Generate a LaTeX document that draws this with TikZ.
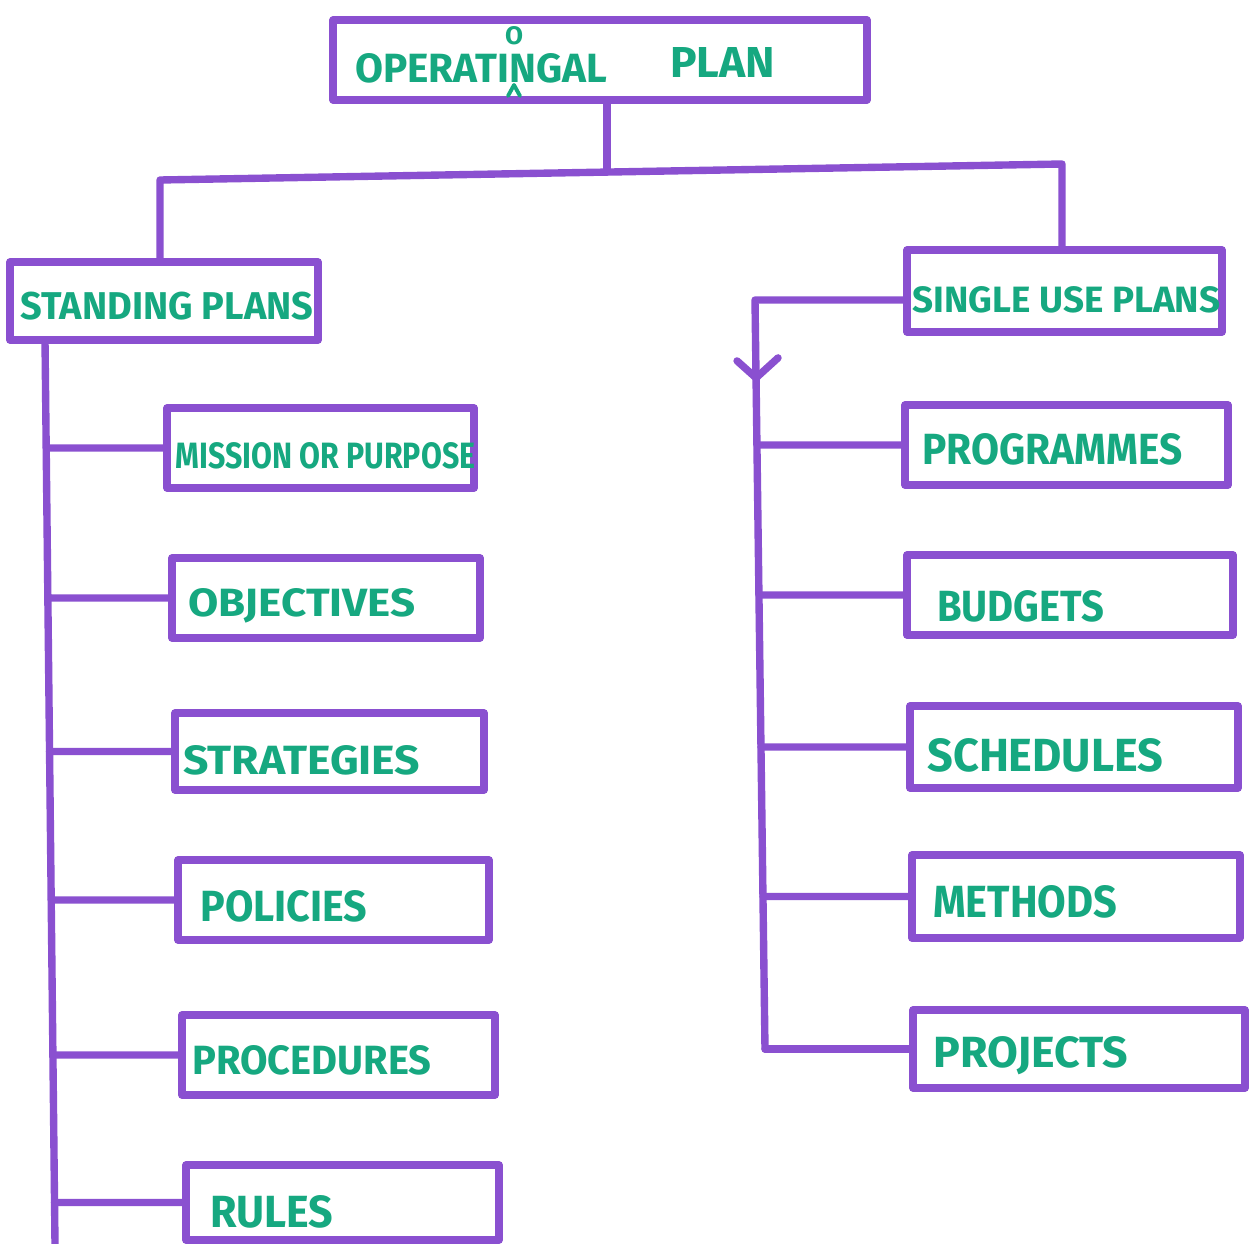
\documentclass[tikz,border=0pt]{standalone}
\usepackage{fontspec}
\setmainfont{Fira Sans}
\usepackage{graphicx}
\usetikzlibrary{calc}

\definecolor{ink}{RGB}{138,80,208}
\definecolor{marker}{RGB}{22,168,128}

% letters scaled to a given width and cap height
\newcommand\handtext[3]{\resizebox{#1}{#2}{\bfseries #3}}

\begin{document}
\begin{tikzpicture}[x=0.02cm,y=-0.02cm,
  wire/.style={draw=ink,line width=4.2pt,line cap=round,line join=round},
  box/.style={draw=ink,line width=4.2pt,line join=round,rectangle,inner sep=0pt},
  lbl/.style={text=marker,inner sep=0pt,anchor=west}]
\useasboundingbox[fill=white] (0,0) rectangle (1252,1244);

% ---------- boxes ----------
\node[box,minimum width=10.68cm,minimum height=1.6cm] (op) at (600,60) {};
\node[box,minimum width=6.16cm,minimum height=1.56cm] (sp) at (164,301) {};
\node[box,minimum width=6.3cm,minimum height=1.64cm] (su) at (1064.5,291) {};

\node[box,minimum width=6.14cm,minimum height=1.6cm] (mi) at (320.5,448) {};
\node[box,minimum width=6.16cm,minimum height=1.6cm] (ob) at (326,598) {};
\node[box,minimum width=6.18cm,minimum height=1.54cm] (st) at (329.5,751.5) {};
\node[box,minimum width=6.22cm,minimum height=1.6cm] (po) at (333.5,900) {};
\node[box,minimum width=6.26cm,minimum height=1.6cm] (pr) at (338.5,1055) {};
\node[box,minimum width=6.26cm,minimum height=1.5cm] (ru) at (342.5,1202.5) {};

\node[box,minimum width=6.46cm,minimum height=1.6cm] (pg) at (1066.5,445) {};
\node[box,minimum width=6.52cm,minimum height=1.6cm] (bu) at (1070,595) {};
\node[box,minimum width=6.56cm,minimum height=1.64cm] (sc) at (1074,747) {};
\node[box,minimum width=6.56cm,minimum height=1.66cm] (me) at (1076,896.5) {};
\node[box,minimum width=6.64cm,minimum height=1.56cm] (pj) at (1079,1049) {};

% ---------- labels ----------
\node[lbl] (tOp) at (355,68) {\handtext{5.04cm}{0.58cm}{OPERATINGAL}};
\node[lbl] (tPlan) at (670,63) {\handtext{2.1cm}{0.6cm}{PLAN}};
% inserted letter with its caret
\node[text=marker,inner sep=0pt] (tIns) at (514,36) {\handtext{0.36cm}{0.36cm}{O}};
\draw[draw=marker,line width=2.2pt,line cap=round,line join=round]
  ([xshift=-0.12cm,yshift=-1.2cm]tIns.center) -- ([yshift=-0.98cm]tIns.center) -- ([xshift=0.12cm,yshift=-1.2cm]tIns.center);

\node[lbl] (tSp) at (20,306) {\handtext{5.86cm}{0.55cm}{STANDING PLANS}};
\node[lbl] (tSu) at (912,300) {\handtext{6.16cm}{0.52cm}{SINGLE USE PLANS}};

\node[lbl] (tMi) at (175,456) {\handtext{6.0cm}{0.52cm}{MISSION OR PURPOSE}};
\node[lbl] (tOb) at (188,606) {\handtext{4.54cm}{0.56cm}{OBJECTIVES}};
\node[lbl] (tSt) at (183,760) {\handtext{4.74cm}{0.58cm}{STRATEGIES}};
\node[lbl] (tPo) at (200,906) {\handtext{3.34cm}{0.62cm}{POLICIES}};
\node[lbl] (tPr) at (192,1060) {\handtext{4.78cm}{0.58cm}{PROCEDURES}};
\node[lbl] (tRu) at (210,1212) {\handtext{2.46cm}{0.64cm}{RULES}};

\node[lbl] (tPg) at (922,449) {\handtext{5.2cm}{0.62cm}{PROGRAMMES}};
\node[lbl] (tBu) at (937,606) {\handtext{3.34cm}{0.62cm}{BUDGETS}};
\node[lbl] (tSc) at (927,755) {\handtext{4.72cm}{0.66cm}{SCHEDULES}};
\node[lbl] (tMe) at (933,902) {\handtext{3.68cm}{0.64cm}{METHODS}};
\node[lbl] (tPj) at (933,1056) {\handtext{3.9cm}{0.62cm}{PROJECTS}};

% ---------- top split ----------
\coordinate (jm) at (607,172);
\coordinate (jl) at (160,180);
\coordinate (jr) at (1062,164);
\draw[wire] (op.south -| jm) -- (jm);
\draw[wire] (jl |- sp.north) -- (jl) -- (jr) -- (jr |- su.north);

% ---------- standing plans trunk ----------
\coordinate (lt) at (45,340);
\coordinate (lb) at (55,1244);
\draw[wire] (lt) -- (lb)
  coordinate[pos=0.1195] (l1) coordinate[pos=0.2854] (l2)
  coordinate[pos=0.4552] (l3) coordinate[pos=0.6195] (l4)
  coordinate[pos=0.7909] (l5) coordinate[pos=0.9541] (l6);
\draw[wire] (l1) -- (mi.west);
\draw[wire] (l2) -- (ob.west);
\draw[wire] (l3) -- (st.west);
\draw[wire] (l4) -- (po.west);
\draw[wire] (l5) -- (pr.west);
\draw[wire] (l6) -- (ru.west);

% ---------- single use plans trunk ----------
\coordinate (rt) at (755,300);
\coordinate (rb) at (765,1049);
\draw[wire] (su.west |- rt) -- (rt) -- (rb)
  coordinate[pos=0.104] (ra)
  coordinate[pos=0.1936] (r1) coordinate[pos=0.3939] (r2)
  coordinate[pos=0.5968] (r3) coordinate[pos=0.7964] (r4)
  coordinate[pos=1] (r5);
\draw[wire] (ra) ++(-19,-17) -- (ra) -- ++(22,-20);
\draw[wire] (r1) -- (pg.west);
\draw[wire] (r2) -- (bu.west);
\draw[wire] (r3) -- (sc.west);
\draw[wire] (r4) -- (me.west);
\draw[wire] (r5) -- (pj.west);
\end{tikzpicture}
\end{document}
